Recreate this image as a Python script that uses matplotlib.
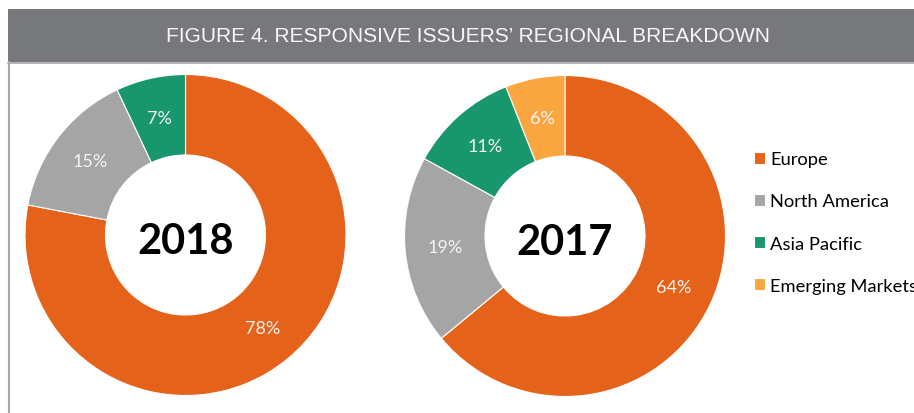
import matplotlib.pyplot as plt
from matplotlib.patches import Rectangle
from matplotlib.lines import Line2D

# data
regions = ['Europe', 'North America', 'Asia Pacific', 'Emerging Markets']
colors = ['#E5621A', '#A5A5A5', '#18966C', '#F9A640']
share_2018 = [78, 15, 7]
share_2017 = [64, 19, 11, 6]
title = 'FIGURE 4. RESPONSIVE ISSUERS\u2019 REGIONAL BREAKDOWN'

W, H = 914, 414
fig = plt.figure(figsize=(W / 100, H / 100), dpi=100)
fig.patch.set_facecolor('white')

# one axes in pixel units over the whole figure
ax = fig.add_axes([0, 0, 1, 1])

# header band, its lower rule and the left border of the panel
ax.add_patch(Rectangle((8, H - 63), W - 8, 53, facecolor='#77787B', edgecolor='none'))
ax.add_line(Line2D([8, W], [H - 63.5, H - 63.5], color='#A8A8A8', lw=1.2))
ax.add_line(Line2D([8.5, 8.5], [0, H - 63], color='#A8A8A8', lw=1.5))
ax.text(467.5, H - 36.5, title, ha='center', va='center', color='#F7F7F7',
        fontsize=15.1, family='Liberation Sans')


def donut(values, cx, cy, year):
    wedges, _, pcts = ax.pie(
        values, colors=colors[:len(values)], startangle=90, counterclock=False,
        radius=160.5, center=(cx, cy), autopct='%d%%', pctdistance=0.75,
        wedgeprops=dict(width=80.5, edgecolor='white', linewidth=0.8),
        textprops=dict(color='#F4F4F4', fontsize=13, family='Lato'),
        frame=True)
    ax.text(cx, cy - 6.5, year, ha='center', va='center', fontsize=30,
            fontweight='bold', family='Lato', color='black')
    return wedges


donut(share_2018, 185.5, H - 236, '2018')
wedges = donut(share_2017, 565, H - 237, '2017')

ax.legend(wedges, regions, loc='center left', bbox_to_anchor=(754, H - 223.5),
          bbox_transform=ax.transData, frameon=False, borderpad=0,
          borderaxespad=0, handlelength=0.62, handleheight=0.62,
          handletextpad=0.28, labelspacing=1.43,
          prop=dict(family='Lato', size=13.2))

ax.set_xlim(0, W)
ax.set_ylim(0, H)
ax.set_aspect('auto')
ax.axis('off')

fig.savefig('out.png', dpi=100)
